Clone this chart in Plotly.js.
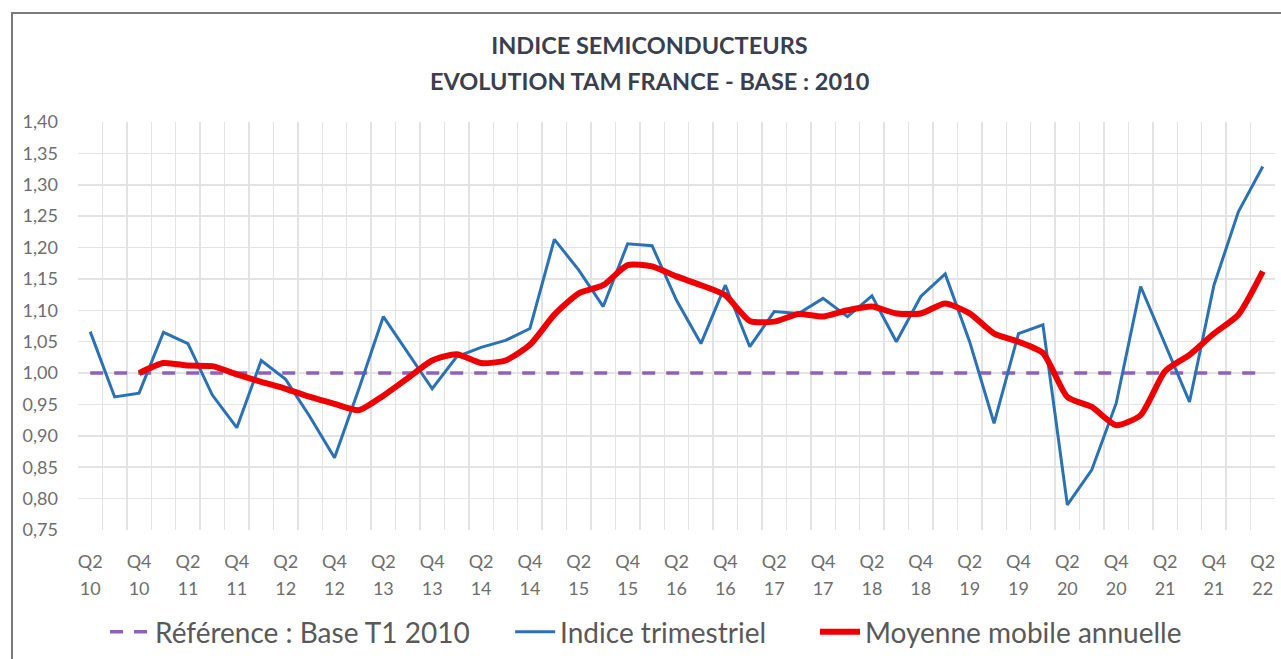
<!DOCTYPE html>
<html>
<head>
<meta charset="utf-8">
<script src="https://cdn.plot.ly/plotly-3.0.1.min.js"></script>
<style>
html,body{margin:0;padding:0;background:#fff;}
#wrap{position:relative;width:1281px;height:659px;overflow:hidden;}
#chart{position:absolute;left:0;top:0;width:1281px;height:659px;}
#frame{position:absolute;left:11px;top:12px;width:1400px;height:800px;border-left:2px solid #7a7a7a;border-top:2px solid #7a7a7a;pointer-events:none;}
</style>
</head>
<body>
<div id="wrap"><div id="chart"></div><div id="frame"></div></div>
<script>
// Quarters Q2 2010 .. Q2 2022
const quarters = ["Q2 10","Q3 10","Q4 10","Q1 11","Q2 11","Q3 11","Q4 11","Q1 12","Q2 12","Q3 12","Q4 12",
  "Q1 13","Q2 13","Q3 13","Q4 13","Q1 14","Q2 14","Q3 14","Q4 14","Q1 15","Q2 15","Q3 15","Q4 15",
  "Q1 16","Q2 16","Q3 16","Q4 16","Q1 17","Q2 17","Q3 17","Q4 17","Q1 18","Q2 18","Q3 18","Q4 18",
  "Q1 19","Q2 19","Q3 19","Q4 19","Q1 20","Q2 20","Q3 20","Q4 20","Q1 21","Q2 21","Q3 21","Q4 21",
  "Q1 22","Q2 22"];

const indiceTrimestriel = [1.066,0.962,0.968,1.065,1.047,0.965,0.913,1.020,0.990,0.930,0.865,
  0.975,1.090,1.032,0.975,1.026,1.041,1.052,1.071,1.213,1.164,1.106,1.206,
  1.203,1.116,1.047,1.140,1.042,1.098,1.095,1.119,1.090,1.123,1.050,1.122,
  1.158,1.050,0.920,1.063,1.077,0.790,0.846,0.952,1.138,1.046,0.954,1.140,
  1.257,1.329];

const moyenneMobile = [null,null,1.000,1.016,1.012,1.011,0.998,0.986,0.975,0.962,0.951,
  0.941,0.964,0.992,1.020,1.030,1.016,1.020,1.045,1.093,1.127,1.140,1.172,
  1.170,1.154,1.140,1.124,1.083,1.082,1.094,1.090,1.100,1.106,1.095,1.095,
  1.111,1.095,1.063,1.050,1.032,0.962,0.946,0.917,0.933,1.003,1.029,1.063,
  1.093,1.162];

const referenceBase = quarters.map(() => 1.00);

const tickQuarter = ["Q2","Q4","Q2","Q4","Q2","Q4","Q2","Q4","Q2","Q4","Q2","Q4","Q2","Q4","Q2","Q4","Q2","Q4","Q2","Q4","Q2","Q4","Q2","Q4","Q2"];
const tickYear = ["10","10","11","11","12","12","13","13","14","14","15","15","16","16","17","17","18","18","19","19","20","20","21","21","22"];

const seriesNames = ["Référence : Base T1 2010","Indice trimestriel","Moyenne mobile annuelle"];
const titleLines = ["INDICE SEMICONDUCTEURS","EVOLUTION TAM FRANCE - BASE : 2010"];

const xIdx = quarters.map((_, i) => i);
const tickIdx = xIdx.filter(i => i % 2 === 0);
const XRANGE = [-0.5, quarters.length - 0.5];

const FONT = "Lato, 'Open Sans', sans-serif";
const GRID = "#e3e3e3";
const TICKCOL = "#6e6e6e";
const LEGFONT = {family: FONT, size: 28, color: "#595959"};

const traces = [
  {x: xIdx, y: referenceBase, name: seriesNames[0], type: "scatter", mode: "lines", xaxis: "x", legend: "legend",
   line: {color: "#8e62b9", width: 3.5, dash: "13px,11px"}, hoverinfo: "skip"},
  {x: xIdx, y: indiceTrimestriel, name: seriesNames[1], type: "scatter", mode: "lines", xaxis: "x2", legend: "legend2",
   line: {color: "#2a72b5", width: 3}},
  {x: xIdx, y: moyenneMobile, name: seriesNames[2], type: "scatter", mode: "lines", xaxis: "x3", legend: "legend3",
   line: {color: "#ee0000", width: 6, shape: "spline", smoothing: 0.6}}
];

const layout = {
  width: 1281, height: 659,
  margin: {l: 78, r: 6, t: 122, b: 129, autoexpand: false},
  paper_bgcolor: "#ffffff", plot_bgcolor: "#ffffff",
  separators: ", ",
  showlegend: true,
  title: {text: "<b>" + titleLines[0] + "</b>", x: 0.507, xanchor: "center", y: 0.931, yanchor: "middle",
          font: {family: FONT, size: 23.5, color: "#3a3f4f"}},
  annotations: [{text: "<b>" + titleLines[1] + "</b>", xref: "paper", yref: "paper", x: 0.478, y: 1.1,
                 xanchor: "center", yanchor: "middle", showarrow: false,
                 font: {family: FONT, size: 23.5, color: "#3a3f4f"}}],
  // category boundary grid
  xaxis: {
    range: XRANGE, tickmode: "linear", tick0: -0.5, dtick: 1,
    showgrid: true, gridcolor: GRID, gridwidth: 1.5, showticklabels: false,
    zeroline: false, showline: false, ticks: ""
  },
  // quarter labels
  xaxis2: {
    range: XRANGE, overlaying: "x", side: "bottom", anchor: "y",
    tickmode: "array", tickvals: tickIdx, ticktext: tickQuarter,
    showgrid: false, zeroline: false, showline: false, ticks: "", ticklabelstandoff: 19,
    tickfont: {family: FONT, size: 18, color: TICKCOL}
  },
  // year labels
  xaxis3: {
    range: XRANGE, overlaying: "x", side: "bottom", anchor: "y",
    tickmode: "array", tickvals: tickIdx, ticktext: tickYear,
    showgrid: false, zeroline: false, showline: false, ticks: "", ticklabelstandoff: 46,
    tickfont: {family: FONT, size: 18, color: TICKCOL}
  },
  yaxis: {
    range: [0.75, 1.40], dtick: 0.05, tick0: 0.75, tickformat: ".2f",
    showgrid: true, gridcolor: GRID, gridwidth: 1.5, zeroline: false, showline: false, ticks: "",
    ticklabelstandoff: 19,
    tickfont: {family: FONT, size: 18, color: TICKCOL}
  },
  legend:  {orientation: "h", x: 0.0226, xanchor: "left", y: -0.25, yanchor: "middle", font: LEGFONT, itemwidth: 40},
  legend2: {orientation: "h", x: 0.361,  xanchor: "left", y: -0.25, yanchor: "middle", font: LEGFONT, itemwidth: 40},
  legend3: {orientation: "h", x: 0.6157, xanchor: "left", y: -0.25, yanchor: "middle", font: LEGFONT, itemwidth: 40}
};

Plotly.newPlot("chart", traces, layout, {displayModeBar: false, staticPlot: true});
</script>
</body>
</html>
